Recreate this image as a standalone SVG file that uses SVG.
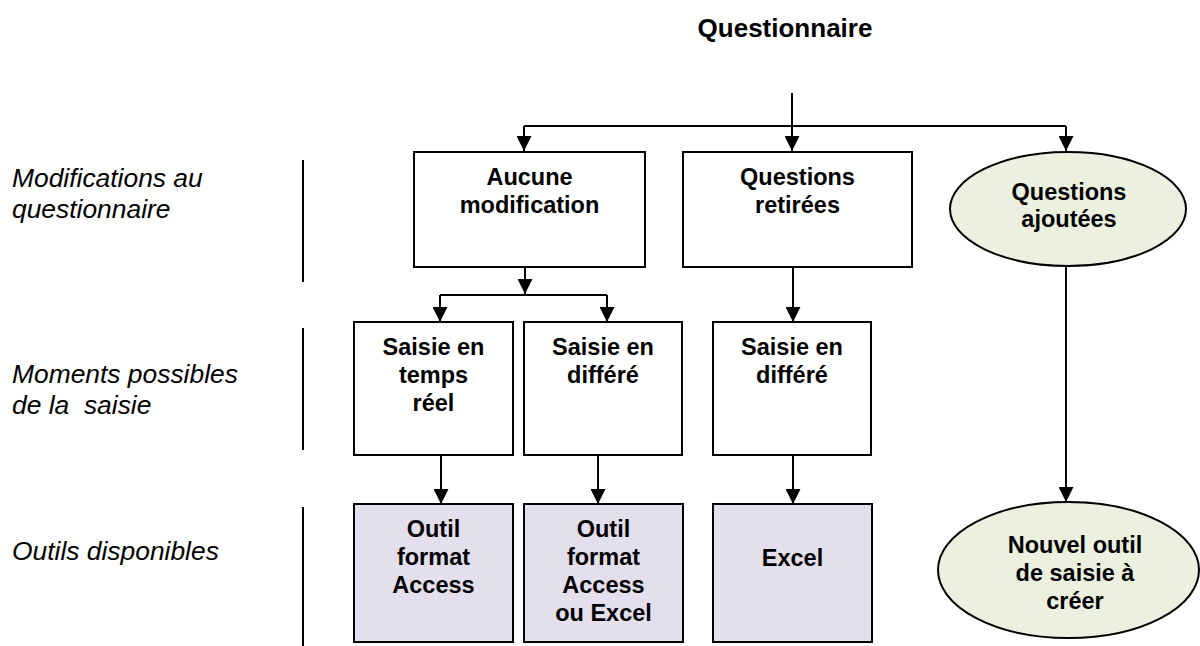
<svg xmlns="http://www.w3.org/2000/svg" width="1200" height="646" viewBox="0 0 1200 646">
<defs>
<style>
.bx{fill:#fff;stroke:#000;stroke-width:2}
.tool{fill:#E4DFEC;stroke:#000;stroke-width:2}
.ell{fill:#EBF1DE;stroke:#000;stroke-width:2}
.t{font-family:"Liberation Sans",Arial,sans-serif;font-weight:bold;font-size:23.5px;text-anchor:middle;fill:#000}
.lab{font-family:"Liberation Sans",Arial,sans-serif;font-style:italic;font-size:26.4px;fill:#000;white-space:pre}
.ttl{font-family:"Liberation Sans",Arial,sans-serif;font-weight:bold;font-size:26px;text-anchor:middle;fill:#000}
.c{fill:none;stroke:#000;stroke-width:2}
.sep{stroke:#000;stroke-width:2}
</style>
<marker id="ah" markerUnits="userSpaceOnUse" markerWidth="15" markerHeight="15" viewBox="0 0 15 15" refX="15" refY="7.5" orient="auto">
<path d="M0,0 L15,7.5 L0,15 z" fill="#000"/>
</marker>
</defs>
<rect width="1200" height="646" fill="#fff"/>

<g id="labels">
<text class="lab" x="12" y="187">Modifications au</text>
<text class="lab" x="12" y="218">questionnaire</text>
<text class="lab" x="12" y="383">Moments possibles</text>
<text class="lab" x="12" y="414" xml:space="preserve">de la  saisie</text>
<text class="lab" x="12" y="560">Outils disponibles</text>
<line class="sep" x1="303" y1="160" x2="303" y2="282"/>
<line class="sep" x1="303" y1="328" x2="303" y2="450"/>
<line class="sep" x1="303" y1="507" x2="303" y2="646"/>
</g>

<g id="questionnaire">
<text class="ttl" x="785" y="37">Questionnaire</text>
</g>

<g id="aucune">
<rect class="bx" x="414" y="152" width="231" height="115"/>
<text class="t" x="529.5" y="185">Aucune</text>
<text class="t" x="529.5" y="213">modification</text>
</g>
<g id="retirees">
<rect class="bx" x="683" y="152" width="229" height="115"/>
<text class="t" x="797.5" y="185">Questions</text>
<text class="t" x="797.5" y="213">retirées</text>
</g>
<g id="ajoutees">
<ellipse class="ell" cx="1068" cy="209" rx="118" ry="57"/>
<text class="t" x="1069" y="200">Questions</text>
<text class="t" x="1069" y="227">ajoutées</text>
</g>

<g id="temps-reel">
<rect class="bx" x="354" y="322" width="159" height="133"/>
<text class="t" x="433.5" y="355">Saisie en</text>
<text class="t" x="433.5" y="383">temps</text>
<text class="t" x="433.5" y="411">réel</text>
</g>
<g id="differe1">
<rect class="bx" x="524" y="322" width="158" height="133"/>
<text class="t" x="603" y="355">Saisie en</text>
<text class="t" x="603" y="383">différé</text>
</g>
<g id="differe2">
<rect class="bx" x="713" y="322" width="158" height="133"/>
<text class="t" x="792" y="355">Saisie en</text>
<text class="t" x="792" y="383">différé</text>
</g>

<g id="outil-access">
<rect class="tool" x="354" y="504" width="159" height="138"/>
<text class="t" x="433.5" y="537">Outil</text>
<text class="t" x="433.5" y="565">format</text>
<text class="t" x="433.5" y="593">Access</text>
</g>
<g id="outil-access-excel">
<rect class="tool" x="524" y="504" width="159" height="138"/>
<text class="t" x="603.5" y="537">Outil</text>
<text class="t" x="603.5" y="565">format</text>
<text class="t" x="603.5" y="593">Access</text>
<text class="t" x="603.5" y="621">ou Excel</text>
</g>
<g id="excel">
<rect class="tool" x="713" y="504" width="159" height="138"/>
<text class="t" x="792.5" y="566">Excel</text>
</g>
<g id="nouvel-outil">
<ellipse class="ell" cx="1068.5" cy="570" rx="130.5" ry="68"/>
<text class="t" x="1075" y="553">Nouvel outil</text>
<text class="t" x="1075" y="581">de saisie à</text>
<text class="t" x="1075" y="609">créer</text>
</g>

<g id="connectors">
<path class="c" d="M792,93 V151" marker-end="url(#ah)"/>
<path class="c" d="M524,126 H1066"/>
<path class="c" d="M524,126 V151" marker-end="url(#ah)"/>
<path class="c" d="M1066,126 V151" marker-end="url(#ah)"/>
<path class="c" d="M525,267 V294" marker-end="url(#ah)"/>
<path class="c" d="M440,295 H607"/>
<path class="c" d="M440,295 V322" marker-end="url(#ah)"/>
<path class="c" d="M607,295 V322" marker-end="url(#ah)"/>
<path class="c" d="M793,267 V322" marker-end="url(#ah)"/>
<path class="c" d="M1066,266 V502" marker-end="url(#ah)"/>
<path class="c" d="M441,455 V504" marker-end="url(#ah)"/>
<path class="c" d="M598,455 V504" marker-end="url(#ah)"/>
<path class="c" d="M793,455 V504" marker-end="url(#ah)"/>
</g>
</svg>
